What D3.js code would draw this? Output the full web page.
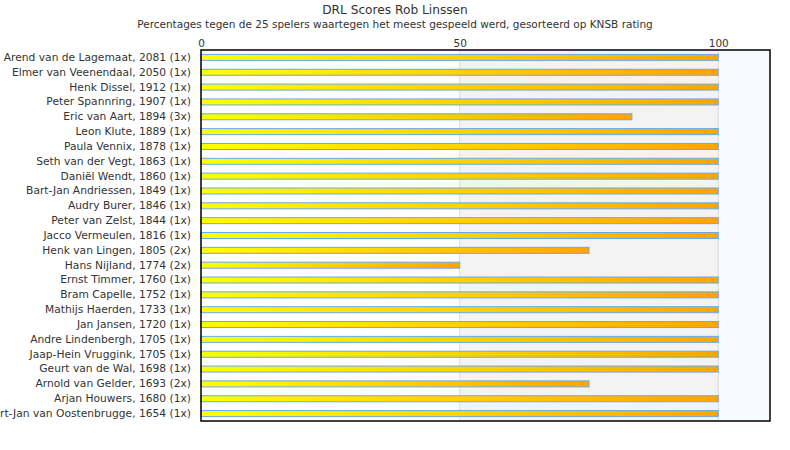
<!DOCTYPE html>
<html>
<head>
<meta charset="utf-8">
<script src="https://cdn.jsdelivr.net/npm/d3@7"></script>
<style>
  body { margin: 0; background: #fff; }
  text { font-family: "DejaVu Sans", Verdana, sans-serif; }
</style>
</head>
<body>
<div id="chart"></div>
<script>
// players (sorted on KNSB rating) and score percentages
var players = [
  "Arend van de Lagemaat, 2081 (1x)", "Elmer van Veenendaal, 2050 (1x)", "Henk Dissel, 1912 (1x)",
  "Peter Spannring, 1907 (1x)", "Eric van Aart, 1894 (3x)", "Leon Klute, 1889 (1x)",
  "Paula Vennix, 1878 (1x)", "Seth van der Vegt, 1863 (1x)", "Daniël Wendt, 1860 (1x)",
  "Bart-Jan Andriessen, 1849 (1x)", "Audry Burer, 1846 (1x)", "Peter van Zelst, 1844 (1x)",
  "Jacco Vermeulen, 1816 (1x)", "Henk van Lingen, 1805 (2x)", "Hans Nijland, 1774 (2x)",
  "Ernst Timmer, 1760 (1x)", "Bram Capelle, 1752 (1x)", "Mathijs Haerden, 1733 (1x)",
  "Jan Jansen, 1720 (1x)", "Andre Lindenbergh, 1705 (1x)", "Jaap-Hein Vruggink, 1705 (1x)",
  "Geurt van de Wal, 1698 (1x)", "Arnold van Gelder, 1693 (2x)", "Arjan Houwers, 1680 (1x)",
  "Bert-Jan van Oostenbrugge, 1654 (1x)"
];
var scores = [100, 100, 100, 100, 83.3, 100, 100, 100, 100, 100, 100, 100, 100, 75, 50,
              100, 100, 100, 100, 100, 100, 100, 75, 100, 100];
var ticks = [0, 50, 100];
// background bands
var bands = [[0, 50, "#ffffff"], [50, 100, "#f3f3f3"], [100, 110, "#f7fbff"]];

var W = 790, H = 450;
var margin = {top: 50, right: 20, bottom: 29, left: 201},
    width = W - margin.left - margin.right,
    height = H - margin.top - margin.bottom;

var svg = d3.select("#chart").append("svg")
    .attr("width", W).attr("height", H);

var defs = svg.append("defs");
var grad = defs.append("linearGradient").attr("id", "barGrad")
    .attr("x1", "0").attr("y1", "0").attr("x2", "1").attr("y2", "0");
grad.append("stop").attr("offset", "0%").attr("stop-color", "#ffff00");
grad.append("stop").attr("offset", "100%").attr("stop-color", "#ffa500");

svg.append("text").attr("x", W / 2).attr("y", 14).attr("text-anchor", "middle")
    .style("font-size", "12.2px").attr("fill", "#333")
    .text("DRL Scores Rob Linssen");
svg.append("text").attr("x", W / 2).attr("y", 28).attr("text-anchor", "middle")
    .style("font-size", "10.5px").attr("fill", "#333")
    .text("Percentages tegen de 25 spelers waartegen het meest gespeeld werd, gesorteerd op KNSB rating");

var g = svg.append("g").attr("transform", "translate(" + margin.left + "," + margin.top + ")");

var x = d3.scaleLinear().domain([0, 110]).range([0, width]);
var y = d3.scaleBand().domain(players).range([0, height]);

g.selectAll("rect.band").data(bands).enter().append("rect")
    .attr("class", "band")
    .attr("x", function (d) { return x(d[0]); })
    .attr("width", function (d) { return x(d[1]) - x(d[0]); })
    .attr("y", 0).attr("height", height)
    .attr("fill", function (d) { return d[2]; });

g.selectAll("line.grid").data(ticks.slice(1)).enter().append("line")
    .attr("class", "grid")
    .attr("x1", function (d) { return x(d); }).attr("x2", function (d) { return x(d); })
    .attr("y1", 0).attr("y2", height)
    .attr("stroke", "#dddddd").attr("stroke-width", 1);

// top axis
var xAxis = g.append("g")
    .call(d3.axisTop(x).tickValues(ticks).tickSize(0).tickPadding(3));
xAxis.select(".domain").remove();
xAxis.selectAll("text").style("font-size", "10.5px").attr("fill", "#333")
    .style("font-family", "DejaVu Sans, sans-serif");

// left axis labels
var yAxis = g.append("g")
    .call(d3.axisLeft(y).tickSize(0).tickPadding(10));
yAxis.select(".domain").remove();
yAxis.selectAll("text").style("font-size", "10.7px").attr("fill", "#333")
    .style("font-family", "DejaVu Sans, sans-serif");

var barH = 6;
g.selectAll("rect.bar").data(scores).enter().append("rect")
    .attr("class", "bar")
    .attr("x", x(0))
    .attr("y", function (d, i) { return y(players[i]) + y.bandwidth() / 2 - barH / 2; })
    .attr("width", function (d) { return x(d) - x(0); })
    .attr("height", barH)
    .attr("fill", "url(#barGrad)")
    .attr("stroke", "#66aaee").attr("stroke-width", 1);

g.append("rect").attr("x", 0).attr("y", 0).attr("width", width).attr("height", height)
    .attr("fill", "none").attr("stroke", "#000").attr("stroke-width", 1.5);
</script>
</body>
</html>
